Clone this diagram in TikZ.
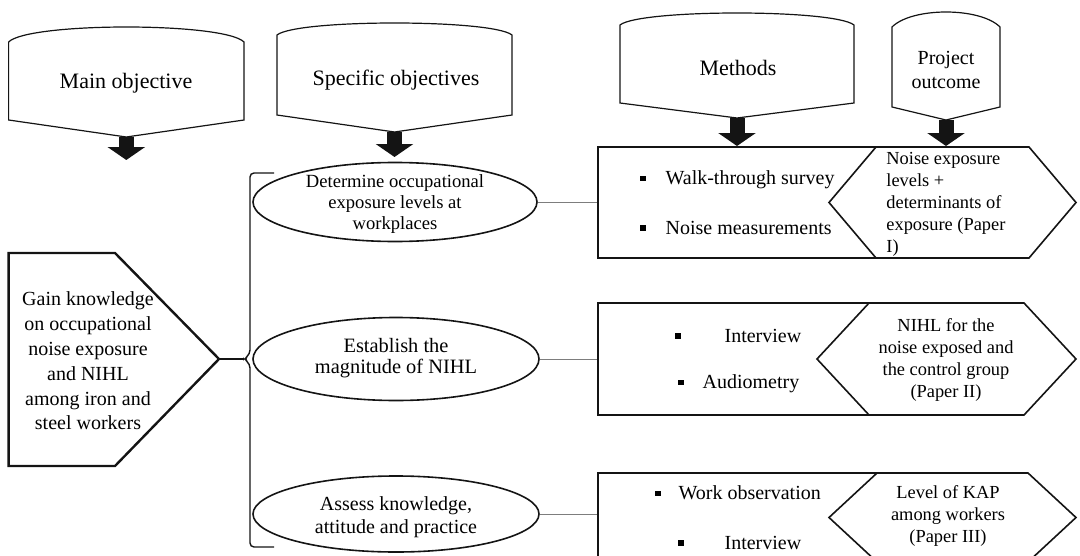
\documentclass[tikz,border=0pt]{standalone}
\usepackage{fontspec}
\setmainfont{Liberation Serif}
\usetikzlibrary{shapes.geometric,arrows.meta,positioning}
\definecolor{ink}{RGB}{20,20,20}
\definecolor{rule}{RGB}{125,125,125}
\newcommand{\sqbul}{\raisebox{0.2em}{\rule{2.6pt}{2.6pt}}}

\begin{document}
\begin{tikzpicture}[x=0.5pt,y=-0.5pt,
  head/.style={draw=ink,line width=0.6pt,fill=white},
  headtxt/.style={font=\fontsize{11}{13}\selectfont,align=center},
  blockarrow/.style={ink,line width=7.5pt,-{Triangle[width=18.5pt,length=6.5pt]}},
  aim/.style={ellipse,draw=ink,line width=0.8pt,inner sep=0pt},
  aimtxt/.style={align=center,inner sep=0pt},
  methbox/.style={rectangle,draw=ink,line width=0.8pt,inner sep=0pt},
  item/.style={anchor=west,inner sep=0pt,font=\fontsize{10}{12}\selectfont},
  result/.style={font=\fontsize{9.2}{11}\selectfont,inner sep=0pt},
  link/.style={draw=rule,line width=0.5pt}]
\useasboundingbox (0,0) rectangle (1080,556);
\clip (0,0) rectangle (1080,556);

% column heads
\foreach \xl/\xr/\yt/\yc/\yb/\yp/\ye [count=\i] in {8.6/244/22/42/120/137/160,277/512/19/35/115/132/157,620/854/9/25/103/118/146,892/1000/7/27/107/120/146}{
  \pgfmathsetmacro{\xm}{(\xl+\xr)/2}
  \draw[head] (\xl,\yc) .. controls (\xl+20,\yt) and (\xr-20,\yt) .. (\xr,\yc) -- (\xr,\yb) -- (\xm,\yp) -- (\xl,\yb) -- cycle;
  \coordinate (tip\i) at (\xm,\yp);
  \coordinate (end\i) at (\xm,\ye);
  \draw[blockarrow] (tip\i) -- (end\i);
}
\node[headtxt] (h1) at (126,83) {Main objective};
\node[headtxt] (h2) at (396,80) {Specific objectives};
\node[headtxt] (h3) at (738,68) {Methods};
\node[headtxt,font=\fontsize{10}{12}\selectfont] (h4) at (946,70) {Project\\outcome};

% main objective
\draw[ink,line width=1.2pt] (8.6,253) -- (115,253) -- (219,359) coordinate (goaltip) -- (115,466) -- (8.6,466) -- cycle;
\node[font=\fontsize{10}{12.4}\selectfont,align=center] (goal) at (88,361) {Gain knowledge\\on occupational\\noise exposure\\and NIHL\\among iron and\\steel workers};
\coordinate (bracemid) at (244,359);
\draw[ink,line width=0.7pt,rounded corners=2pt] (274,173) -- (250,173) -- (250,354) -- (bracemid) -- (250,364) -- (250,547) -- (274,547);
\draw[ink,line width=0.9pt] (goaltip) -- (bracemid);

% specific objectives
\node[aim,minimum width=142pt,minimum height=39.5pt] (e1) at (395,202) {};
\node[aim,minimum width=143pt,minimum height=41.5pt] (e2) at (396,359) {};
\node[aim,minimum width=143pt,minimum height=38pt] (e3) at (396,514) {};
\node[aimtxt,font=\fontsize{9.3}{10.6}\selectfont] (e1t) at (395,204) {Determine occupational\\exposure levels at\\workplaces};
\node[aimtxt,font=\fontsize{10.2}{10.5}\selectfont] (e2t) at (396,358) {Establish the\\magnitude of NIHL};
\node[aimtxt,font=\fontsize{10}{11.5}\selectfont] (e3t) at (396,517) {Assess knowledge,\\attitude and practice};

% methods and outcomes
\node[methbox,minimum width=139.5pt,minimum height=55.5pt] (m1) at (737.5,202.5) {};
\node[methbox,minimum width=135.5pt,minimum height=56pt] (m2) at (733.5,359) {};
\node[methbox,minimum width=139.5pt,minimum height=44.5pt] (m3) at (737.5,517.5) {};
\foreach \i in {1,2,3} \draw[link] (e\i.east) -- (e\i.east -| m\i.west);
\foreach \xl/\xa/\xb/\xr/\yt/\yb in {829/876/1029/1076/147/258,817/869/1024/1076/303/415,829/877/1028/1076/473/562}
  \draw[ink,line width=0.8pt,fill=white] (\xl,{(\yt+\yb)/2}) -- (\xa,\yt) -- (\xb,\yt) -- (\xr,{(\yt+\yb)/2}) -- (\xb,\yb) -- (\xa,\yb) -- cycle;

\node[item] (i11) at (640,180) {\sqbul\hspace{10pt}Walk-through survey};
\node[item] (i12) at (640,228) {\sqbul\hspace{10pt}Noise measurements};
\node[item] (i21) at (675,336) {\sqbul\hspace{22pt}Interview};
\node[item] (i22) at (678,384) {\sqbul\hspace{9.5pt}Audiometry};
\node[item] (i31) at (655,493) {\sqbul\hspace{9pt}Work observation};
\node[item] (i32) at (678,543) {\sqbul\hspace{20.5pt}Interview};

\node[result,align=left,anchor=west] (r1) at (886,204) {Noise exposure\\levels +\\determinants of\\exposure (Paper\\I)};
\node[result,align=center] (r2) at (946,360) {NIHL for the\\noise exposed and\\the control group\\(Paper II)};
\node[result,align=center] (r3) at (948,516) {Level of KAP\\among workers\\(Paper III)};
\end{tikzpicture}
\end{document}
